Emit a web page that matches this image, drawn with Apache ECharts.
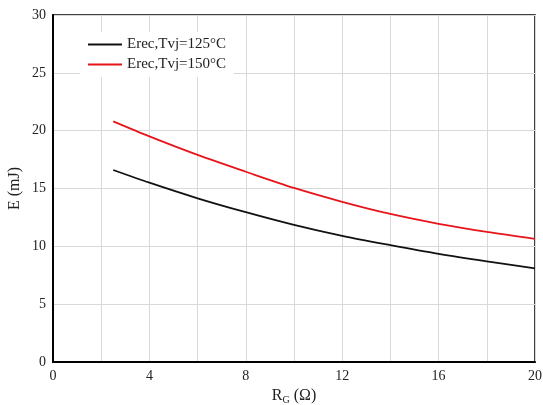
<!DOCTYPE html>
<html>
<head>
<meta charset="utf-8">
<script src="https://cdn.jsdelivr.net/npm/echarts@6/dist/echarts.min.js"></script>
<style>html,body{margin:0;padding:0;background:#fff;}#c{width:543px;height:405px;}</style>
</head>
<body>
<div id="c"></div>
<script>
const rg = [2.5, 4, 6, 8, 10, 12, 14, 16, 18, 20];
const erec125 = [16.6, 15.5, 14.15, 12.95, 11.85, 10.9, 10.1, 9.35, 8.7, 8.1];
const erec150 = [20.8, 19.5, 17.9, 16.45, 15.05, 13.85, 12.8, 11.95, 11.25, 10.65];
const seriesNames = ['Erec,Tvj=125°C', 'Erec,Tvj=150°C'];
const xTicks = [0, 4, 8, 12, 16, 20];

const font = 'Liberation Serif';
const chart = echarts.init(document.getElementById('c'), null, {renderer: 'canvas'});
const pair = (xs, ys) => xs.map((x, i) => [x, ys[i]]);
chart.setOption({
  animation: false,
  backgroundColor: '#fff',
  grid: {left: 53, right: 8, top: 15, bottom: 43, show: true, borderColor: '#000', borderWidth: 1.5,
         containLabel: false, outerBoundsMode: 'none'},
  legend: {
    orient: 'vertical', left: 80, top: 32,
    backgroundColor: '#fff', padding: [5, 8, 5, 8],
    itemWidth: 34, itemHeight: 2, itemGap: 5,
    icon: 'path://M0,0 L34,0 L34,2 L0,2 Z',
    textStyle: {fontFamily: font, fontSize: 15, color: '#222', lineHeight: 14},
    data: seriesNames
  },
  xAxis: {
    type: 'value', min: 0, max: 20, interval: 2,
    axisLine: {show: true, lineStyle: {color: '#000', width: 2}},
    axisTick: {show: false},
    splitLine: {show: true, lineStyle: {color: '#d9d9d9', width: 1}},
    axisLabel: {fontFamily: font, fontSize: 14, color: '#222', margin: 7,
      formatter: v => xTicks.indexOf(v) >= 0 ? String(v) : ''},
    name: '{a|R}{s|G}{a| (Ω)}', nameLocation: 'middle', nameGap: 22,
    nameTextStyle: {fontFamily: font, color: '#222',
      rich: {a: {fontFamily: font, fontSize: 16, color: '#222'},
             s: {fontFamily: font, fontSize: 10, color: '#222', padding: [9, 0, 0, 0]}}}
  },
  yAxis: {
    type: 'value', min: 0, max: 30, interval: 5,
    axisLine: {show: true, lineStyle: {color: '#000', width: 2}},
    axisTick: {show: false},
    splitLine: {show: true, lineStyle: {color: '#d9d9d9', width: 1}},
    axisLabel: {fontFamily: font, fontSize: 14, color: '#222', margin: 7},
    name: 'E (mJ)', nameLocation: 'middle', nameGap: 30, nameMoveOverlap: false,
    nameTextStyle: {fontFamily: font, fontSize: 16, color: '#222'}
  },
  series: [
    {name: seriesNames[0], type: 'line', data: pair(rg, erec125), smooth: 0.3, showSymbol: false,
     lineStyle: {color: '#111', width: 1.8}, itemStyle: {color: '#111'}},
    {name: seriesNames[1], type: 'line', data: pair(rg, erec150), smooth: 0.3, showSymbol: false,
     lineStyle: {color: '#e8141b', width: 1.8}, itemStyle: {color: '#e8141b'}}
  ]
});
</script>
</body>
</html>
